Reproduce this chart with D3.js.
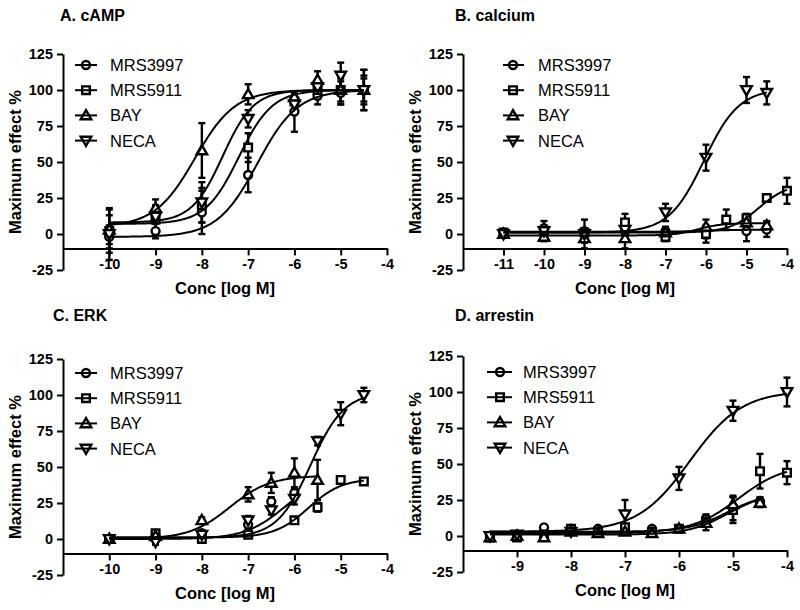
<!DOCTYPE html>
<html><head><meta charset="utf-8">
<script src="https://cdn.jsdelivr.net/npm/d3@7"></script>
<style>
body{margin:0;background:#fff}
text{font-family:"Liberation Sans",Arial,Helvetica,sans-serif}
</style>
</head><body>
<svg id="chart" width="800" height="610"></svg>
<script>
// ---------- data ----------
const seriesNames = ["MRS3997", "MRS5911", "BAY", "NECA"];
const symbolKinds = ["circle", "square", "triangleUp", "triangleDown"];
const yTicks = [-25, 0, 25, 50, 75, 100, 125];

// A. cAMP
const campX = [
  [-10, -9, -8, -7, -6, -5.5, -5, -4.5],
  [-10, -9, -8, -7, -6, -5.5, -5, -4.5],
  [-10, -9, -8, -7, -6, -5.5, -5, -4.5],
  [-10, -9, -8, -7, -6, -5.5, -5, -4.5]
];
const campY = [
  [-2, 2, 15, 41, 85, 96, 98, 100],
  [2, 10, 20, 60, 92, 100, 100, 100],
  [3, 18, 58, 97, 95, 107, 100, 100],
  [0, 12, 22, 80, 90, 102, 110, 100]
];
const campErr = [
  [8, 5, 15, 12, 14, 6, 8, 8],
  [15, 6, 12, 10, 5, 5, 10, 14],
  [10, 6, 19, 7, 4, 6, 8, 10],
  [18, 8, 14, 6, 6, 5, 9, 14]
];
// fit parameters: bottom, top, logEC50, hill
const campFit = [
  [-2, 100, -6.8, 1.0],
  [7, 100, -7.2, 1.2],
  [5, 100, -8.15, 1.0],
  [8, 100, -7.55, 1.3]
];

// B. calcium
const calX = [
  [-11, -10, -9, -8, -7, -6, -5, -4.5],
  [-11, -10, -9, -8, -7, -6, -5.5, -5, -4.5, -4],
  [-11, -10, -9, -8, -7, -6, -5, -4.5],
  [-11, -10, -9, -8, -7, -6, -5, -4.5]
];
const calY = [
  [1, 4, 2, 2, 2, 1, 2, 3],
  [1, 2, 1, 8, -2, 0, 10, 11, 25, 30],
  [0, -2, -3, -3, 1, 5, 8, 6],
  [0, 2, 0, 3, 15, 53, 100, 98]
];
const calErr = [
  [2, 5, 8, 3, 3, 4, 7, 5],
  [2, 2, 3, 6, 3, 6, 7, 3, 2, 9],
  [2, 3, 7, 7, 3, 5, 3, 3],
  [2, 3, 4, 4, 6, 9, 9, 8]
];
const calFit = [
  [1.5, 3, -6.0, 1.0],
  [1, 35, -4.7, 1.2],
  [-1, 7.5, -6.2, 1.5],
  [1, 101, -6.05, 1.0]
];

// C. ERK
const erkX = [
  [-10, -9, -8, -7, -6.5, -6],
  [-10, -9, -8, -7, -6, -5.5, -5, -4.5],
  [-10, -9, -8, -7, -6.5, -6, -5.5],
  [-10, -9, -8, -7, -6.5, -6, -5.5, -5, -4.5]
];
const erkY = [
  [0, 2, 4, 10, 26, 32],
  [0, 4, 0, 3, 13, 22, 41, 40],
  [0, 2, 13, 31, 39, 46, 41],
  [0, -2, 3, 13, 20, 28, 68, 87, 100]
];
const erkErr = [
  [1, 2, 2, 3, 3, 3],
  [1, 2, 1, 2, 2, 3, 2, 2],
  [1, 2, 2, 5, 7, 10, 14],
  [1, 2, 2, 3, 3, 4, 3, 8, 5]
];
const erkFit = [
  [0, 45, -6.2, 1.0],
  [1, 42, -5.7, 1.2],
  [0, 44, -7.4, 1.0],
  [1, 102, -5.65, 1.2]
];

// D. arrestin
const arrX = [
  [-9.5, -9, -8.5, -8, -7.5, -7, -6.5, -6, -5.5, -5, -4.5],
  [-9.5, -9, -8.5, -8, -7.5, -7, -6.5, -6, -5.5, -5, -4.5, -4],
  [-9.5, -9, -8.5, -8, -7.5, -7, -6.5, -6, -5.5, -5, -4.5],
  [-9.5, -9, -8, -7, -6, -5, -4]
];
const arrY = [
  [0, 1, 6, 5, 5, 4, 5, 5, 12, 19, 24],
  [-1, -1, 1, 5, 3, 6, 3, 5, 10, 18, 45, 44],
  [-1, 0, -1, 3, 2, 3, 2, 5, 9, 22, 23],
  [0, 1, 3, 15, 40, 87, 100]
];
const arrErr = [
  [1, 1, 1, 1, 1, 1, 1, 1, 3, 8, 3],
  [1, 1, 1, 1, 1, 2, 1, 1, 3, 9, 12, 8],
  [1, 1, 1, 1, 1, 1, 2, 1, 5, 6, 3],
  [1, 1, 1, 10, 8, 7, 10]
];
const arrFit = [
  [3, 30, -5.1, 1.2],
  [2, 50, -4.9, 1.0],
  [1, 30, -5.1, 1.2],
  [3, 101, -5.8, 0.9]
];

// ---------- layout ----------
const panels = [
  {title: "A. cAMP", tx: 60, ty: 21, left: 63, right: 387, top: 54, bottom: 270,
   xDomain: [-11, -4], xTicks: [-10, -9, -8, -7, -6, -5, -4],
   lgLine: [75, 97], lgMark: 86, lgText: 110, lgY: 65,
   X: campX, Y: campY, E: campErr, F: campFit},
  {title: "B. calcium", tx: 455, ty: 21, left: 463, right: 787, top: 54, bottom: 270,
   xDomain: [-12, -4], xTicks: [-11, -10, -9, -8, -7, -6, -5, -4],
   lgLine: [503, 524], lgMark: 513, lgText: 538, lgY: 65,
   X: calX, Y: calY, E: calErr, F: calFit},
  {title: "C. ERK", tx: 53, ty: 321, left: 63, right: 387, top: 359, bottom: 575,
   xDomain: [-11, -4], xTicks: [-10, -9, -8, -7, -6, -5, -4],
   lgLine: [75, 97], lgMark: 86, lgText: 110, lgY: 373,
   X: erkX, Y: erkY, E: erkErr, F: erkFit},
  {title: "D. arrestin", tx: 455, ty: 321, left: 463, right: 787, top: 356, bottom: 572,
   xDomain: [-10, -4], xTicks: [-9, -8, -7, -6, -5, -4],
   lgLine: [487, 512], lgMark: 500, lgText: 523, lgY: 372,
   X: arrX, Y: arrY, E: arrErr, F: arrFit}
];

const svg = d3.select("#chart");
const fmt = d => String(d);   // plain hyphen-minus

function symbolPath(kind) {
  if (kind === "circle") return d3.symbol(d3.symbolCircle, 50)();
  if (kind === "square") return d3.symbol(d3.symbolSquare, 58)();
  return d3.symbol(d3.symbolTriangle, 48)();
}
function drawMarker(g, kind, x, y) {
  return g.append("path")
    .attr("d", symbolPath(kind))
    .attr("fill", "#fff").attr("stroke", "#000").attr("stroke-width", 2.4)
    .attr("transform", `translate(${x},${y})` + (kind === "triangleDown" ? " rotate(180)" : "") +
      (kind === "triangleUp" || kind === "triangleDown" ? " translate(0,0.8)" : ""));
}
const hill = (p, x) => p[0] + (p[1] - p[0]) / (1 + Math.pow(10, (p[2] - x) * p[3]));

panels.forEach(P => {
  const g = svg.append("g");
  const x = d3.scaleLinear().domain(P.xDomain).range([P.left, P.right]);
  const y = d3.scaleLinear().domain([-25, 125]).range([P.bottom, P.top]);

  g.append("text").attr("x", P.tx).attr("y", P.ty).attr("font-size", 16)
    .attr("font-weight", "bold").text(P.title);

  const ya = g.append("g").attr("transform", `translate(${P.left},0)`)
    .call(d3.axisLeft(y).tickValues(yTicks).tickFormat(fmt).tickSize(6).tickSizeOuter(0).tickPadding(4));
  const xa = g.append("g").attr("transform", `translate(0,${y(-10)})`)
    .call(d3.axisBottom(x).tickValues(P.xTicks).tickFormat(fmt).tickSize(7).tickSizeOuter(0).tickPadding(3));
  [ya, xa].forEach(a => {
    a.selectAll("path,line").attr("stroke", "#000").attr("stroke-width", 2);
    a.selectAll("text").attr("font-size", 14.5).attr("font-weight", "bold").attr("fill", "#000")
      .attr("font-family", '"Liberation Sans",Arial,sans-serif');
  });

  g.append("text").attr("x", (P.left + P.right) / 2).attr("y", y(-10) + 46)
    .attr("text-anchor", "middle").attr("font-size", 16.5).attr("font-weight", "bold")
    .text("Conc [log M]");
  g.append("text")
    .attr("transform", `translate(${P.left - 42},${(P.top + P.bottom) / 2}) rotate(-90)`)
    .attr("text-anchor", "middle").attr("font-size", 16.5).attr("font-weight", "bold")
    .text("Maximum effect %");

  const line = d3.line().x(d => x(d[0])).y(d => y(d[1]));

  seriesNames.forEach((name, i) => {
    const xs = P.X[i], ys = P.Y[i], es = P.E[i];
    xs.forEach((xv, j) => {
      const cx = x(xv), y1 = y(ys[j] + es[j]), y2 = y(ys[j] - es[j]);
      g.append("line").attr("x1", cx).attr("x2", cx).attr("y1", y1).attr("y2", y2)
        .attr("stroke", "#000").attr("stroke-width", 2.4);
      [y1, y2].forEach(yy => g.append("line").attr("x1", cx - 3.5).attr("x2", cx + 3.5)
        .attr("y1", yy).attr("y2", yy).attr("stroke", "#000").attr("stroke-width", 2.4));
    });
  });
  seriesNames.forEach((name, i) => {
    P.X[i].forEach((xv, j) => drawMarker(g, symbolKinds[i], x(xv), y(P.Y[i][j])));
  });
  seriesNames.forEach((name, i) => {
    const xs = P.X[i];
    const x0 = d3.min(xs), x1 = d3.max(xs);
    const pts = d3.range(0, 201).map(k => {
      const xv = x0 + (x1 - x0) * k / 200;
      return [xv, hill(P.F[i], xv)];
    });
    g.append("path").attr("d", line(pts)).attr("fill", "none")
      .attr("stroke", "#000").attr("stroke-width", 2);
  });

  seriesNames.forEach((name, i) => {
    const ly = P.lgY + i * 25.2;
    drawMarker(g, symbolKinds[i], P.lgMark, ly);
    g.append("line").attr("x1", P.lgLine[0]).attr("x2", P.lgLine[1]).attr("y1", ly).attr("y2", ly)
      .attr("stroke", "#000").attr("stroke-width", 2);
    g.append("text").attr("x", P.lgText).attr("y", ly).attr("dy", "0.36em")
      .attr("font-size", 16.5).text(name);
  });
});
</script>
</body></html>
